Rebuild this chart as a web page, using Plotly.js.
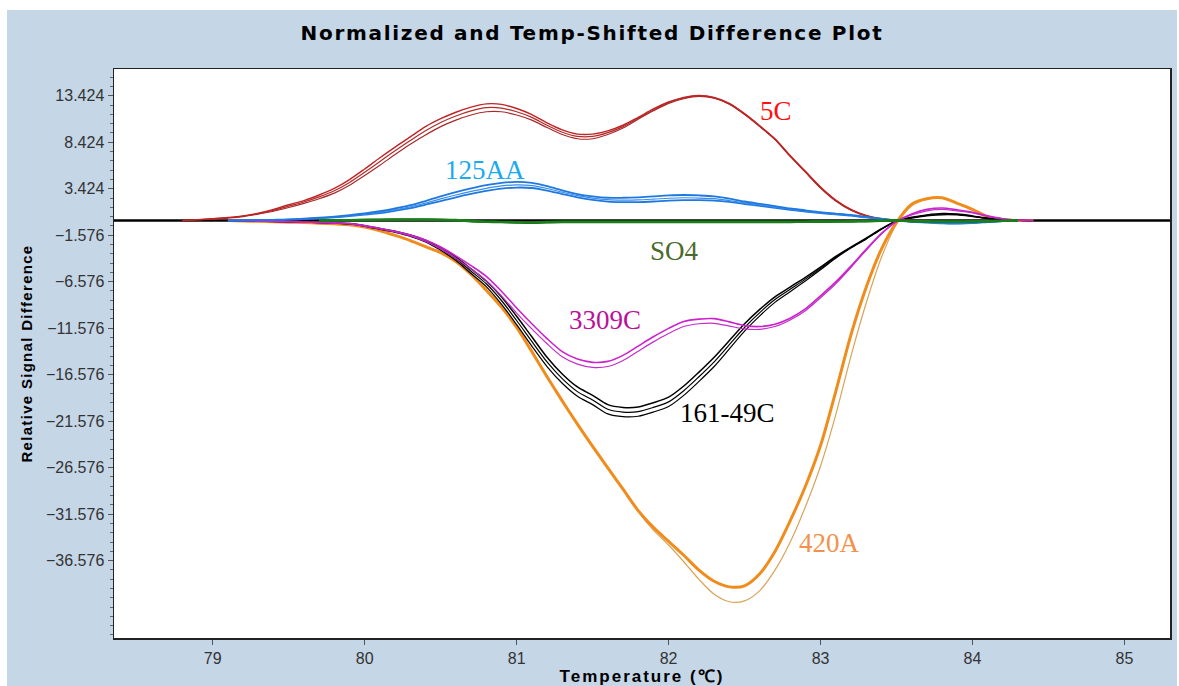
<!DOCTYPE html>
<html>
<head>
<meta charset="utf-8">
<script src="https://cdn.plot.ly/plotly-3.0.1.min.js"></script>
<style>
  html, body { margin: 0; padding: 0; background: #ffffff; }
  #chart { position: absolute; left: 7px; top: 10px; width: 1170px; height: 676px; }
  #chart .gtitle { letter-spacing: 1.7px; }
  #chart .xtitle { letter-spacing: 2px; }
  #chart .ytitle { letter-spacing: 1.3px; }
</style>
</head>
<body>
<div id="chart"></div>
<script>
// Temperature grid (°C) shared by all melt-difference curves
const temps = [78.35, 78.6, 78.8, 78.9,
  79.0, 79.1, 79.2, 79.3, 79.4, 79.5, 79.6, 79.7, 79.8, 79.9,
  80.0, 80.1, 80.2, 80.3, 80.4, 80.5, 80.6, 80.7, 80.8, 80.9,
  81.0, 81.1, 81.2, 81.3, 81.4, 81.5, 81.6, 81.7, 81.8, 81.9,
  82.0, 82.1, 82.2, 82.3, 82.4, 82.5, 82.6, 82.7, 82.8, 82.9,
  83.0, 83.1, 83.2, 83.3, 83.4, 83.5, 83.6, 83.7, 83.8, 83.9,
  84.0, 84.1, 84.2, 84.3, 84.4,
  84.6, 85.3];

// 5C replicates (null = no curve drawn there)
const c5_a = [null, null, 0, 0.1,
  0.2, 0.32, 0.5, 0.8, 1.2, 1.7, 2.15, 2.75, 3.45, 4.4,
  5.55, 6.75, 7.9, 9.0, 10.1, 10.95, 11.65, 12.2, 12.55, 12.5,
  12.05, 11.4, 10.5, 9.75, 9.3, 9.3, 9.65, 10.25, 11.1, 12.0,
  12.75, 13.25, 13.45, 13.25, 12.6, 11.5, 10.2, 8.8, 7.0, 5.3,
  3.6, 2.2, 1.2, 0.55, 0.2, 0.05, 0, null, null, null,
  null, null, null, null, null,
  null, null];
const c5_b = [null, null, 0, 0.1,
  0.18, 0.3, 0.47, 0.75, 1.1, 1.55, 2.0, 2.55, 3.2, 4.1,
  5.2, 6.35, 7.5, 8.6, 9.65, 10.55, 11.25, 11.8, 12.15, 12.1,
  11.7, 11.1, 10.25, 9.5, 9.05, 9.05, 9.45, 10.1, 11.0, 11.9,
  12.7, 13.2, 13.4, 13.2, 12.55, 11.45, 10.15, 8.75, 6.95, 5.25,
  3.55, 2.15, 1.15, 0.5, 0.18, 0.04, 0, null, null, null,
  null, null, null, null, null,
  null, null];
const c5_c = [null, null, 0, 0.08,
  0.15, 0.27, 0.43, 0.7, 1.0, 1.4, 1.85, 2.35, 2.95, 3.8,
  4.85, 5.95, 7.1, 8.2, 9.2, 10.1, 10.8, 11.35, 11.7, 11.7,
  11.35, 10.8, 10.0, 9.25, 8.8, 8.8, 9.25, 9.95, 10.9, 11.8,
  12.6, 13.1, 13.35, 13.15, 12.5, 11.4, 10.1, 8.7, 6.9, 5.2,
  3.5, 2.1, 1.1, 0.48, 0.17, 0.04, 0, null, null, null,
  null, null, null, null, null,
  null, null];

// 125AA replicates
const aa125_a = [null, null, null, null,
  null, 0, 0.02, 0.05, 0.08, 0.12, 0.2, 0.3, 0.42, 0.58,
  0.78, 1.0, 1.3, 1.65, 2.1, 2.6, 3.05, 3.45, 3.8, 4.05,
  4.15, 4.05, 3.7, 3.25, 2.85, 2.6, 2.45, 2.45, 2.5, 2.6,
  2.7, 2.75, 2.7, 2.6, 2.35, 2.05, 1.8, 1.55, 1.3, 1.1,
  0.9, 0.75, 0.6, 0.4, 0.2, 0.02, -0.1, -0.18, -0.25, -0.3,
  -0.25, -0.15, -0.05, 0, null,
  null, null];
const aa125_b = [null, null, null, null,
  null, 0, 0.02, 0.05, 0.08, 0.11, 0.18, 0.27, 0.38, 0.52,
  0.7, 0.9, 1.17, 1.48, 1.88, 2.33, 2.75, 3.13, 3.47, 3.72,
  3.83, 3.75, 3.45, 3.05, 2.68, 2.42, 2.25, 2.2, 2.22, 2.3,
  2.4, 2.45, 2.42, 2.35, 2.15, 1.9, 1.68, 1.45, 1.22, 1.03,
  0.85, 0.7, 0.55, 0.36, 0.18, 0.01, -0.12, -0.2, -0.28, -0.3,
  -0.25, -0.15, -0.05, 0, null,
  null, null];
const aa125_c = [null, null, null, null,
  null, 0, 0.02, 0.04, 0.07, 0.1, 0.16, 0.24, 0.34, 0.47,
  0.63, 0.8, 1.05, 1.33, 1.7, 2.1, 2.5, 2.86, 3.18, 3.43,
  3.55, 3.5, 3.22, 2.85, 2.5, 2.22, 2.03, 1.98, 1.98, 2.05,
  2.15, 2.2, 2.2, 2.15, 2.0, 1.78, 1.58, 1.37, 1.15, 0.97,
  0.8, 0.66, 0.52, 0.33, 0.16, 0, -0.14, -0.22, -0.3, -0.32,
  -0.27, -0.16, -0.06, 0, null,
  null, null];

// SO4 replicates
const so4_a = [null, null, null, null,
  null, null, null, null, null, null, null, 0, 0.02, 0.05,
  0.08, 0.1, 0.12, 0.12, 0.12, 0.1, 0.06, -0.05, -0.12, -0.14,
  -0.18, -0.22, -0.15, -0.13, -0.13, -0.13, -0.13, -0.13, -0.13, -0.13,
  -0.13, -0.13, -0.13, -0.13, -0.13, -0.13, -0.13, -0.13, -0.12, -0.12,
  -0.1, -0.1, -0.08, -0.05, -0.02, 0, -0.05, -0.08, -0.1, -0.1,
  -0.08, -0.05, -0.02, 0, null,
  null, null];
const so4_b = [null, null, null, null,
  null, null, null, null, null, null, null, 0, 0.01, 0.03,
  0.05, 0.07, 0.08, 0.08, 0.08, 0.06, 0.02, -0.08, -0.14, -0.17,
  -0.22, -0.25, -0.18, -0.16, -0.16, -0.16, -0.16, -0.16, -0.16, -0.16,
  -0.16, -0.16, -0.16, -0.16, -0.16, -0.16, -0.16, -0.15, -0.15, -0.14,
  -0.13, -0.12, -0.1, -0.07, -0.03, 0, -0.07, -0.1, -0.12, -0.12,
  -0.1, -0.07, -0.03, 0, null,
  null, null];

// 161-49C replicates
const c161_a = [null, null, null, null,
  null, 0, -0.03, -0.06, -0.1, -0.13, -0.17, -0.2, -0.25, -0.32,
  -0.55, -0.85, -1.15, -1.55, -2.1, -2.9, -3.9, -5.2, -6.5, -8.2,
  -10.3, -12.5, -14.7, -16.5, -17.9, -18.8, -19.8, -20.1, -20.05, -19.6,
  -19.0, -17.8, -16.3, -14.7, -12.9, -11.1, -9.55, -8.2, -7.15, -6.1,
  -5.0, -3.85, -2.85, -1.9, -0.9, -0.05, 0.35, 0.6, 0.75, 0.7,
  0.5, 0.25, 0.1, 0.02, 0,
  null, null];
const c161_b = [null, null, null, null,
  null, 0, -0.03, -0.06, -0.1, -0.13, -0.17, -0.2, -0.26, -0.34,
  -0.58, -0.9, -1.2, -1.62, -2.2, -3.05, -4.1, -5.45, -6.8, -8.6,
  -10.75, -13.0, -15.2, -17.0, -18.4, -19.3, -20.3, -20.6, -20.55, -20.1,
  -19.5, -18.3, -16.8, -15.2, -13.35, -11.5, -9.9, -8.5, -7.4, -6.3,
  -5.15, -3.95, -2.9, -1.95, -0.92, -0.05, 0.3, 0.55, 0.68, 0.65,
  0.46, 0.23, 0.09, 0.02, 0,
  null, null];
const c161_c = [null, null, null, null,
  null, 0, -0.03, -0.06, -0.1, -0.14, -0.18, -0.22, -0.28, -0.36,
  -0.62, -0.95, -1.28, -1.7, -2.3, -3.2, -4.3, -5.7, -7.1, -9.0,
  -11.2, -13.5, -15.7, -17.5, -18.9, -19.8, -20.8, -21.1, -21.05, -20.6,
  -20.0, -18.8, -17.3, -15.7, -13.8, -11.9, -10.25, -8.8, -7.65, -6.5,
  -5.3, -4.05, -2.95, -2.0, -0.95, -0.05, 0.27, 0.5, 0.62, 0.6,
  0.42, 0.21, 0.08, 0.02, 0,
  null, null];

// 3309C replicates
const c3309_a = [null, null, null, null,
  null, 0, -0.03, -0.06, -0.1, -0.13, -0.17, -0.2, -0.25, -0.32,
  -0.55, -0.85, -1.15, -1.55, -2.1, -2.85, -3.8, -4.85, -6.0, -7.6,
  -9.4, -11.1, -12.7, -14.1, -14.9, -15.25, -15.15, -14.5, -13.5, -12.5,
  -11.6, -10.85, -10.6, -10.55, -10.9, -11.3, -11.4, -11.15, -10.5, -9.5,
  -8.1, -6.6, -4.9, -3.1, -1.4, -0.1, 0.7, 1.2, 1.35, 1.15,
  0.9, 0.5, 0.2, 0.05, 0,
  null, null];
const c3309_b = [null, null, null, null,
  null, 0, -0.03, -0.06, -0.1, -0.13, -0.17, -0.21, -0.27, -0.35,
  -0.6, -0.9, -1.22, -1.65, -2.25, -3.05, -4.05, -5.2, -6.45, -8.1,
  -9.95, -11.65, -13.25, -14.65, -15.45, -15.8, -15.7, -15.05, -14.05, -13.05,
  -12.15, -11.4, -11.1, -11.05, -11.35, -11.65, -11.7, -11.4, -10.7, -9.7,
  -8.3, -6.8, -5.05, -3.2, -1.45, -0.1, 0.6, 1.05, 1.2, 1.05,
  0.82, 0.45, 0.18, 0.04, 0,
  null, null];

// 420A replicates
const a420_a = [null, null, null, null,
  null, 0, -0.05, -0.08, -0.12, -0.17, -0.22, -0.28, -0.35, -0.45,
  -0.7, -1.1, -1.6, -2.15, -2.8, -3.45, -4.4, -5.8, -7.5, -9.3,
  -11.5, -14.1, -16.8, -19.4, -21.9, -24.3, -26.6, -28.9, -31.2, -33.0,
  -34.5, -36.0, -37.6, -38.8, -39.4, -39.3, -38.0, -35.6, -32.3, -28.6,
  -24.2, -18.4, -12.3, -7.2, -3.1, -0.2, 1.75, 2.35, 2.45, 1.85,
  1.2, 0.4, 0.1, 0, 0,
  null, null];
const a420_b = [null, null, null, null,
  null, 0, -0.05, -0.08, -0.12, -0.17, -0.22, -0.28, -0.35, -0.45,
  -0.7, -1.1, -1.6, -2.15, -2.8, -3.45, -4.4, -5.8, -7.5, -9.3,
  -11.5, -14.1, -16.8, -19.4, -21.9, -24.3, -26.6, -28.9, -31.3, -33.3,
  -34.9, -36.7, -38.6, -40.2, -41.0, -40.9, -39.8, -37.6, -34.6, -30.8,
  -26.4, -20.9, -14.6, -8.9, -4.0, -0.4, 1.6, 2.3, 2.4, 1.8,
  1.1, 0.4, 0.1, 0, 0,
  null, null];

// Sample names and their label positions on the plot
const sampleNames = ['5C', '125AA', 'SO4', '3309C', '161-49C', '420A'];
const labelTemps = [82.71, 80.79, 82.04, 81.58, 82.39, 83.06];
const labelValues = [11.8, 5.4, -3.3, -10.7, -20.7, -34.7];
const labelColors = ['#ff1010', '#1aaaf0', '#4a6b2c', '#bb1199', '#000000', '#f5904a'];

// Y tick labels
const yTickVals = [13.424, 8.424, 3.424, -1.576, -6.576, -11.576, -16.576, -21.576, -26.576, -31.576, -36.576];

function curve(y, color, width) {
  return {
    x: temps, y: y, type: 'scatter', mode: 'lines',
    line: { color: color, width: width, shape: 'spline', smoothing: 0.8 },
    connectgaps: false, hoverinfo: 'skip', showlegend: false
  };
}

const traces = [
  curve(a420_b, '#d9a35a', 1.2),
  curve(a420_a, '#f08c1c', 3),
  curve(c161_c, '#000000', 1.2),
  curve(c161_b, '#000000', 1.2),
  curve(c161_a, '#000000', 1.5),
  curve(c3309_b, '#c030c8', 1.2),
  curve(c3309_a, '#cc22cc', 1.6),
  curve(c5_c, '#a52a2a', 1.2),
  curve(c5_b, '#b22a2a', 1.2),
  curve(c5_a, '#c02424', 1.4),
  curve(aa125_c, '#1f78e0', 1.8),
  curve(aa125_b, '#3a8ee8', 1.2),
  curve(aa125_a, '#1f78e0', 1.8),
  curve(so4_b, '#127012', 2.4),
  curve(so4_a, '#1a7f1a', 2.4)
];

const annotations = sampleNames.map((name, i) => ({
  x: labelTemps[i], y: labelValues[i], xref: 'x', yref: 'y',
  text: name, showarrow: false, xanchor: 'center', yanchor: 'middle',
  font: { family: 'Liberation Serif, Times New Roman, serif', size: 27, color: labelColors[i] }
}));

const axisFont = { family: 'Liberation Sans, Arial, sans-serif', size: 16, color: '#333333' };

const layout = {
  width: 1170, height: 676,
  margin: { l: 107, r: 7, t: 59, b: 48 },
  paper_bgcolor: '#c5d6e7',
  plot_bgcolor: '#ffffff',
  title: {
    text: '<b>Normalized and Temp-Shifted Difference Plot</b>',
    font: { family: 'DejaVu Sans, Verdana, sans-serif', size: 20, color: '#000000' },
    x: 0.5, xref: 'container', xanchor: 'center',
    y: 0.966, yref: 'container', yanchor: 'middle'
  },
  xaxis: {
    range: [78.35, 85.3],
    tickmode: 'linear', tick0: 79, dtick: 1,
    ticks: 'outside', ticklen: 5, tickcolor: '#555555',
    tickfont: axisFont,
    showgrid: false, zeroline: false,
    showline: true, mirror: true, linecolor: '#222222', linewidth: 1.5,
    title: {
      text: '<b>Temperature (℃)</b>',
      font: { family: 'Liberation Sans, Arial, sans-serif', size: 17, color: '#000000' },
      standoff: 2
    }
  },
  yaxis: {
    range: [-44.9, 16.3],
    tickmode: 'array', tickvals: yTickVals, tickformat: '.3f',
    ticks: 'outside', ticklen: 5, tickcolor: '#555555',
    minor: { tickmode: 'linear', tick0: -1.576, dtick: 1, ticks: 'outside', ticklen: 3, tickcolor: '#666666' },
    tickfont: axisFont,
    showgrid: false,
    zeroline: false,
    showline: true, mirror: true, linecolor: '#222222', linewidth: 1.5,
    title: {
      text: '<b>Relative Signal Difference</b>',
      font: { family: 'Liberation Sans, Arial, sans-serif', size: 15, color: '#000000' },
      standoff: 10
    }
  },
  // zero baseline drawn beneath the curves
  shapes: [{
    type: 'line', layer: 'below',
    xref: 'paper', x0: 0, x1: 1, yref: 'y', y0: 0, y1: 0,
    line: { color: '#000000', width: 2.5 }
  }],
  annotations: annotations
};

Plotly.newPlot('chart', traces, layout, { displayModeBar: false, staticPlot: true });
</script>
</body>
</html>
